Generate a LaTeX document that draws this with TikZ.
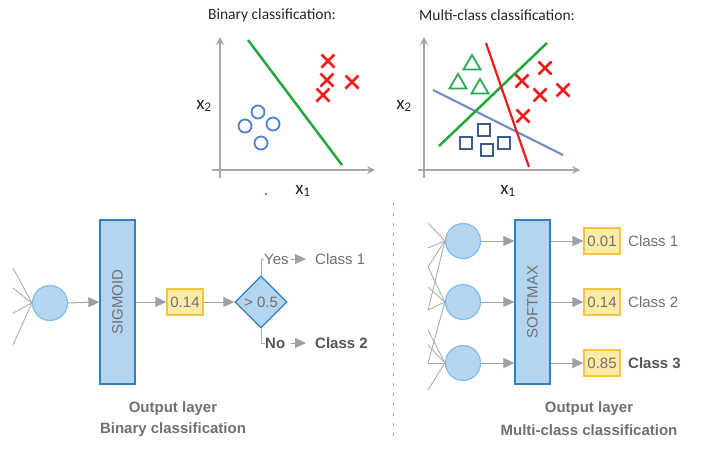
\documentclass[tikz,border=0pt]{standalone}
\usepackage{fontspec}
\setmainfont{Liberation Sans}
\newfontfamily\calfont{Carlito}
\usetikzlibrary{arrows.meta,shapes.geometric}
\definecolor{nodefill}{HTML}{B4D5F0}
\definecolor{nodeedge}{HTML}{86BCE6}
\definecolor{boxedge}{HTML}{2C83C3}
\definecolor{yelfill}{HTML}{FDEBA6}
\definecolor{yeledge}{HTML}{F4C544}
\definecolor{txtgray}{HTML}{707070}
\definecolor{txtdark}{HTML}{555555}
\definecolor{arrgray}{HTML}{A0A0A0}
\definecolor{axgray}{HTML}{A8A8A8}
\definecolor{pgreen}{HTML}{22A83A}
\definecolor{tgreen}{HTML}{2BA855}
\definecolor{pred}{HTML}{EE1C1C}
\definecolor{pblue}{HTML}{6F8FC6}
\definecolor{pcirc}{HTML}{4C82D2}
\definecolor{psq}{HTML}{3D5C8C}
\tikzset{
  neuron/.style={circle, draw=nodeedge, fill=nodefill, line width=1.2pt, minimum size=35pt, inner sep=0},
  actbox/.style={draw=boxedge, fill=nodefill, line width=1.3pt, minimum width=35pt, minimum height=164pt, inner sep=0},
  valbox/.style={draw=yeledge, fill=yelfill, line width=1.2pt, minimum width=36pt, minimum height=26pt, inner sep=0, text=txtgray, font=\fontsize{15}{18}\selectfont},
  flow/.style={draw=arrgray, line width=1pt, -{Triangle[length=11pt,width=10pt]}},
  wire/.style={draw=arrgray!85, line width=0.9pt},
  lbl/.style={text=txtgray, font=\fontsize{15}{18}\selectfont, inner sep=0},
  lblb/.style={text=txtdark, font=\fontsize{15}{18}\selectfont\bfseries, inner sep=0},
  caption/.style={text=txtgray, font=\fontsize{15}{18}\selectfont\bfseries, inner sep=0},
  ptitle/.style={text=black!85, font=\calfont\fontsize{15.5}{18}\selectfont, inner sep=0},
  axlbl/.style={text=black!85, font=\calfont\fontsize{19}{22}\selectfont, inner sep=0},
  axis/.style={draw=axgray, line width=1.8pt, -{Stealth[length=8pt,width=8pt]}},
  xmark/.pic={\draw[pred, line width=2.7pt] (-6.5,-6.5)--(6.5,6.5) (-6.5,6.5)--(6.5,-6.5);},
  omark/.style={draw=pcirc, line width=1.8pt},
  sqmark/.style={draw=psq, line width=1.8pt},
  trimark/.style={draw=tgreen, line width=1.8pt, line join=miter}
}
\begin{document}
\begin{tikzpicture}[x=1pt,y=-1pt]
\useasboundingbox (0,0) rectangle (704,448);
% ---------- Binary plot ----------
\node[ptitle] (btitle) at (272,15) {Binary classification:};
\draw[axis] (220,178) -- (220,37);
\draw[axis] (212,170) -- (375,170);
\node[axlbl] (bx2) at (204,106) {x\textsubscript{2}};
\node[axlbl] (bx1) at (303,191) {x\textsubscript{1}};
\draw[pgreen, line width=2.5pt] (248,40) -- (342,165);
\foreach \p in {(328,61),(327,80),(352,82),(323,95)} \pic at \p {xmark};
\foreach \p in {(258,112),(245,126),(273,124),(261,143)} \draw[omark] \p circle[radius=6.5];
\fill[blue!70] (266,194) circle[radius=1.2];
% ---------- Multi-class plot ----------
\node[ptitle] (mtitle) at (497,15) {Multi-class classification:};
\draw[axis] (424,178) -- (424,37);
\draw[axis] (418,170) -- (580,170);
\node[axlbl] (mx2) at (404,106) {x\textsubscript{2}};
\node[axlbl] (mx1) at (508,191) {x\textsubscript{1}};
\draw[pblue, line width=2.2pt] (433,90) -- (563,155);
\draw[pgreen, line width=2.5pt] (439,146) -- (547,43);
\draw[pred, line width=2.2pt] (486,43) -- (529,167);
\foreach \x/\y in {472/63,458/82,480/87} \draw[trimark] (\x,\y-8) -- (\x+8.5,\y+6.5) -- (\x-8.5,\y+6.5) -- cycle;
\foreach \x/\y in {466/143,484/130,487/150,504/143} \draw[sqmark] (\x-6,\y-6) rectangle (\x+6,\y+6);
\foreach \p in {(545,68),(522,81),(540,95),(563,90),(523,116)} \pic at \p {xmark};
% ---------- Divider ----------
\draw[arrgray, line width=1pt, dash pattern=on 3pt off 7pt] (393,203) -- (393,438);
% ---------- Binary network ----------
\node[neuron] (bn) at (50,303) {};
\foreach \y [count=\i] in {268,288,313,345} {\coordinate (bin\i) at (13,\y); \draw[wire] (bin\i) -- (bn.west);}
\node[actbox] (sig) at (117.5,302) {};
\node[lbl, rotate=90] (sigtxt) at (sig.center) {SIGMOID};
\node[valbox] (bval) at (185,302) {0.14};
\node[diamond, aspect=1, draw=boxedge, fill=nodefill, line width=1.3pt, minimum size=52pt, inner sep=0, text=txtgray, font=\fontsize{15}{18}\selectfont] (dia) at (261,302) {> 0.5};
\draw[flow] (bn.east) -- (sig.west);
\draw[flow] (sig.east) -- (bval.west);
\draw[flow] (bval.east) -- (dia.west);
\node[lbl, anchor=west] (yes) at (264,259) {Yes};
\node[lbl, anchor=west] (bc1) at (315,259) {Class 1};
\node[lblb, anchor=west] (no) at (265,343) {No};
\node[lblb, anchor=west] (bc2) at (315,343) {Class 2};
\draw[wire] (dia.north) |- (yes.west);
\draw[wire] (dia.south) |- (no.west);
\draw[flow, shorten <=2pt, shorten >=9pt] (yes.east) -- (bc1.west);
\draw[flow, shorten <=6pt, shorten >=9pt] (no.east) -- (bc2.west);
\node[caption] (bcap1) at (173,409) {Output layer};
\node[caption] (bcap2) at (173,430) {Binary classification};
% ---------- Multi-class network ----------
\node[neuron] (m1) at (463,241) {};
\node[neuron] (m2) at (463,302) {};
\node[neuron] (m3) at (463,363) {};
\foreach \y [count=\i] in {223,248,267,287,310,330,345,363,390} \coordinate (min\i) at (428,\y);
\foreach \a/\b in {1/1,2/1,3/1,5/1,3/2,4/2,5/2,8/2,6/3,7/3,8/3,9/3} \draw[wire] (min\a) -- (m\b.west);
\node[actbox] (smx) at (532.5,302) {};
\node[lbl, rotate=90] (smxtxt) at (smx.center) {SOFTMAX};
\foreach \i in {1,2,3} \draw[flow] (m\i.east) -- (smx.west |- m\i.east);
\node[valbox] (v1) at (602,241) {0.01};
\node[valbox] (v2) at (602,302) {0.14};
\node[valbox] (v3) at (602,363) {0.85};
\foreach \i in {1,2,3} \draw[flow] (smx.east |- v\i.west) -- (v\i.west);
\node[lbl, anchor=west] (mc1) at (628,241) {Class 1};
\node[lbl, anchor=west] (mc2) at (628,302) {Class 2};
\node[lblb, anchor=west] (mc3) at (628,363) {Class 3};
\node[caption] (mcap1) at (589,409) {Output layer};
\node[caption] (mcap2) at (589,430) {Multi-class classification};
\end{tikzpicture}
\end{document}
